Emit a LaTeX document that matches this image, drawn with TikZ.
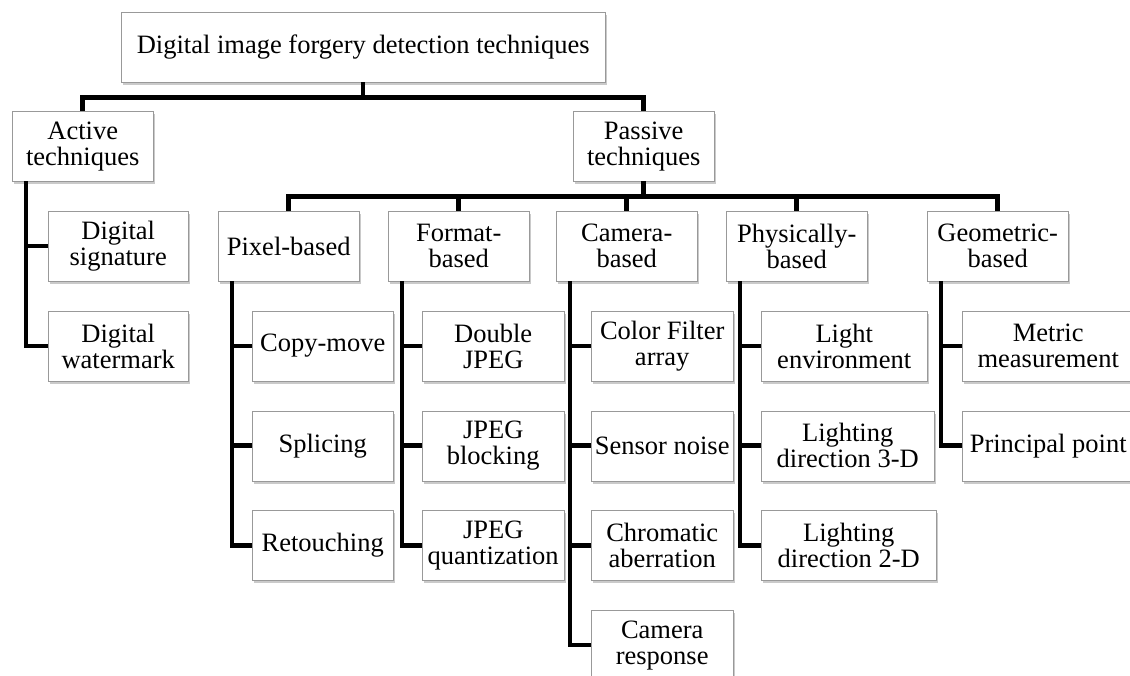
\documentclass[tikz,border=0pt]{standalone}
\usepackage{fontspec}
\setmainfont{Liberation Serif}
\usetikzlibrary{shadows}

\begin{document}
\begin{tikzpicture}[
        x=1pt, y=-1pt,
        item/.style={rectangle, draw=black!40, fill=white, align=center,
            minimum height=70pt, inner sep=2pt,
            font=\fontsize{26.5}{26}\selectfont,
            drop shadow={shadow xshift=1.5pt, shadow yshift=-3pt,
                opacity=0.35, fill=black!60}},
        link/.style={line width=4.5pt}
    ]
    \def\rowtop{211}   % top of the first row of boxes
    \def\rowsep{99.75} % vertical step between rows
    \def\boxw{141pt}   % usual box width

    \useasboundingbox (0,0) rectangle (1130,675);

    \node[item, anchor=north west, minimum width=484pt] (root) at (121,12)
        {Digital image forgery detection techniques};
    \node[item, anchor=north west, minimum width=\boxw] (active) at (12,111)
        {Active\\techniques};
    \node[item, anchor=north west, minimum width=\boxw] (passive) at (573,111)
        {Passive\\techniques};

    \draw[link] (root.south) -- ++(0,15) -| (active.north);
    \draw[link] (root.south) -- ++(0,15) -| (passive.north);

    % passive families
    \foreach \nm/\lx/\txt in {pixel/218/Pixel-based, format/388/{Format-\\based},
            camera/556/{Camera-\\based}, physical/726/{Physically-\\based},
            geometric/927/{Geometric-\\based}} {
        \node[item, anchor=north west, minimum width=\boxw] (\nm) at (\lx,\rowtop) {\txt};
        \draw[link] (passive.south) -- ++(0,15) -| (\nm.north);
    }

    % leaves, hung on a trunk at the left of each parent
    \foreach \up/\nm/\lx/\row/\w/\txt in {
            active/sig/48/1/140/{Digital\\signature},
            active/wat/48/2/140/{Digital\\watermark},
            pixel/copy/252/2/141/Copy-move,
            pixel/splice/252/3/141/Splicing,
            pixel/retouch/252/4/141/Retouching,
            format/double/422/2/142/{Double\\JPEG},
            format/block/422/3/142/{JPEG\\blocking},
            format/quant/422/4/142/{JPEG\\quantization},
            camera/cfa/591/2/142/{Color Filter\\array},
            camera/noise/591/3/142/Sensor noise,
            camera/chrom/591/4/142/{Chromatic\\aberration},
            camera/resp/591/5/142/{Camera\\response},
            physical/env/761/2/166/{Light\\environment},
            physical/dir3/761/3/173/{Lighting\\direction 3-D},
            physical/dir2/761/4/175/{Lighting\\direction 2-D},
            geometric/metric/962/2/172/{Metric\\measurement},
            geometric/pp/962/3/172/Principal point} {
        \pgfmathsetmacro{\ty}{\rowtop+(\row-1)*\rowsep}
        \node[item, anchor=north west, minimum width=\w pt] (\nm) at (\lx,\ty) {\txt};
        \draw[link] ([xshift=14pt]\up.south west) |- (\nm.west);
    }
\end{tikzpicture}
\end{document}
